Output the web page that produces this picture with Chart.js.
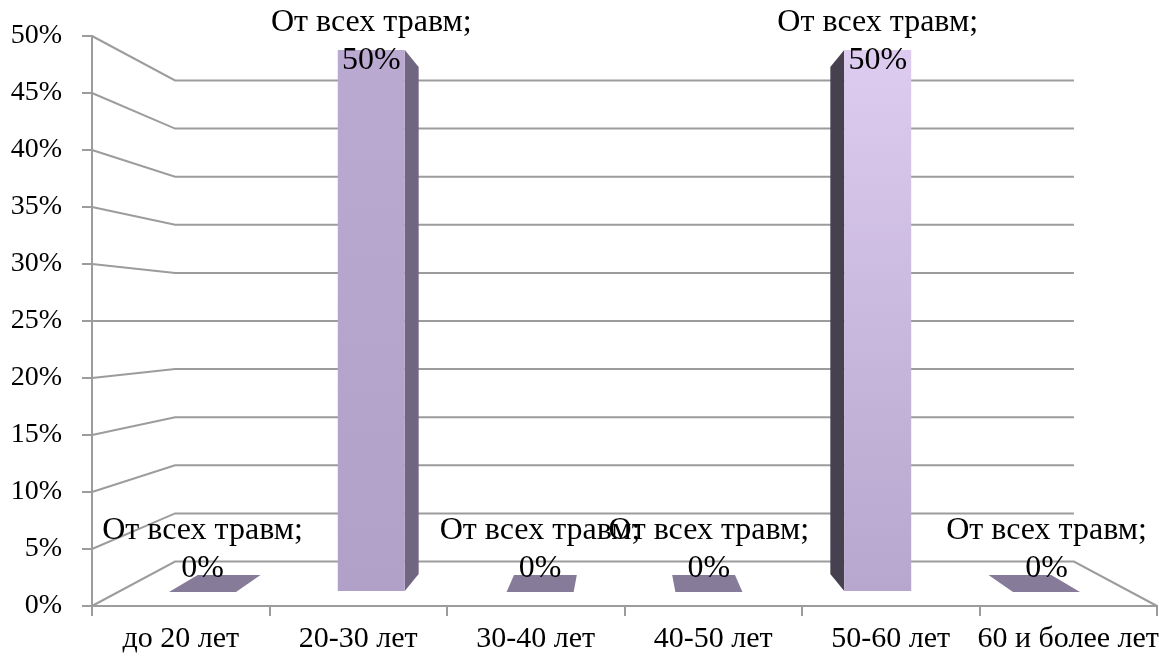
<!DOCTYPE html>
<html>
<head>
<meta charset="utf-8">
<script src="https://cdn.jsdelivr.net/npm/chart.js@4.4.1/dist/chart.umd.min.js"></script>
<style>
html,body{margin:0;padding:0;background:#fff;}
#wrap{width:1159px;height:656px;position:relative;}
</style>
</head>
<body>
<div id="wrap"><canvas id="c"></canvas></div>
<script>
// ---- data ----
const categories = ['до 20 лет', '20-30 лет', '30-40 лет', '40-50 лет', '50-60 лет', '60 и более лет'];
const seriesName = 'От всех травм';
const seriesValues = [0, 50, 0, 0, 50, 0];
const yTickValues = [0, 5, 10, 15, 20, 25, 30, 35, 40, 45, 50];

// ---- style ----
const FONT = '"Liberation Serif", "Times New Roman", serif';
const GRID = '#9c9c9c';
const S_BACK_WALL = 0.844;   // depth scale of back wall
const S_BAR_FRONT = 0.951;   // depth scale of bar front faces
const S_BAR_BACK = 0.891;    // depth scale of bar back faces

function proj(ca, x, y, s) {
  const cx = (ca.left + ca.right) / 2, cy = (ca.top + ca.bottom) / 2;
  return [cx + s * (x - cx), cy + s * (y - cy)];
}
function poly(ctx, pts, fill) {
  ctx.beginPath();
  ctx.moveTo(pts[0][0], pts[0][1]);
  for (let i = 1; i < pts.length; i++) ctx.lineTo(pts[i][0], pts[i][1]);
  ctx.closePath();
  ctx.fillStyle = fill;
  ctx.fill();
}

const perspective = {
  id: 'perspective',
  beforeDatasetsDraw(chart) {
    const {ctx, chartArea: ca, scales: {y}} = chart;
    ctx.save();
    ctx.strokeStyle = GRID;
    ctx.lineWidth = 2;
    y.ticks.forEach(t => {
      const py = y.getPixelForValue(t.value);
      const a = proj(ca, ca.left, py, S_BACK_WALL);
      const b = proj(ca, ca.right, py, S_BACK_WALL);
      ctx.beginPath();
      ctx.moveTo(ca.left, py);
      ctx.lineTo(a[0], a[1]);
      ctx.lineTo(b[0], b[1]);
      if (t.value === y.min) ctx.lineTo(ca.right, py);
      ctx.stroke();
    });
    ctx.restore();
  },
  beforeDatasetDraw() { return false; },
  afterDatasetsDraw(chart) {
    const {ctx, chartArea: ca} = chart;
    const cx = (ca.left + ca.right) / 2, cy = (ca.top + ca.bottom) / 2;
    const meta = chart.getDatasetMeta(0);
    const labels = [];
    ctx.save();
    meta.data.forEach((el, i) => {
      const p = el.getProps(['x', 'y', 'base', 'width'], true);
      const l = p.x - p.width / 2, r = p.x + p.width / 2;
      const F = (px, py) => proj(ca, px, py, S_BAR_FRONT);
      const B = (px, py) => proj(ca, px, py, S_BAR_BACK);
      const ftl = F(l, p.y), ftr = F(r, p.y), fbl = F(l, p.base), fbr = F(r, p.base);
      const btl = B(l, p.y), btr = B(r, p.y), bbl = B(l, p.base), bbr = B(r, p.base);
      const leftSide = p.x > cx;
      const sideCol = leftSide ? '#47414f' : '#716681';
      if (p.base - p.y > 0.5) {
        if (leftSide) poly(ctx, [ftl, btl, bbl, fbl], sideCol);
        else poly(ctx, [ftr, btr, bbr, fbr], sideCol);
        const g = ctx.createLinearGradient(0, ftl[1], 0, fbl[1]);
        if (leftSide) { g.addColorStop(0, '#ddccef'); g.addColorStop(1, '#b7a6cd'); }
        else { g.addColorStop(0, '#baa9d1'); g.addColorStop(1, '#b1a0c7'); }
        poly(ctx, [ftl, ftr, fbr, fbl], g);
      }
      if (p.y > cy) {
        poly(ctx, [ftl, ftr, btr, btl], '#867b99');
      }
      labels.push({x: (ftl[0] + ftr[0]) / 2, y: btl[1] + 2, v: seriesValues[i]});
    });
    ctx.font = '32px ' + FONT;
    ctx.fillStyle = '#000';
    ctx.textAlign = 'center';
    ctx.textBaseline = 'alphabetic';
    labels.forEach(lb => {
      ctx.fillText(seriesName + ';', lb.x, lb.y - 38);
      ctx.fillText(lb.v + '%', lb.x, lb.y);
    });
    ctx.restore();
  }
};

new Chart(document.getElementById('c'), {
  type: 'bar',
  data: {
    labels: categories,
    datasets: [{
      label: seriesName,
      data: seriesValues,
      backgroundColor: '#b8a7cf',
      barPercentage: 0.397,
      categoryPercentage: 1
    }]
  },
  options: {
    responsive: true,
    maintainAspectRatio: false,
    animation: false,
    events: [],
    layout: {padding: {top: 36, right: 2, left: 0, bottom: 0}},
    plugins: {legend: {display: false}, tooltip: {enabled: false}},
    scales: {
      x: {
        offset: true,
        grid: {offset: true, drawOnChartArea: false, color: GRID, lineWidth: 2, tickLength: 10},
        border: {color: GRID, width: 2},
        ticks: {font: {family: FONT, size: 30}, color: '#000', padding: 5, maxRotation: 0, autoSkip: false},
        afterFit(s) { s.height = 50; s.paddingLeft = 0; s.paddingRight = 0; }
      },
      y: {
        min: 0, max: 50,
        afterBuildTicks(s) { s.ticks = yTickValues.map(v => ({value: v})); },
        grid: {drawOnChartArea: false, color: GRID, lineWidth: 2, tickLength: 10},
        border: {color: GRID, width: 2},
        ticks: {font: {family: FONT, size: 28}, color: '#000', padding: 20, callback: v => v + '%'},
        afterFit(s) { s.width = 92; s.paddingTop = 0; s.paddingBottom = 0; }
      }
    }
  },
  plugins: [perspective]
});
</script>
</body>
</html>
